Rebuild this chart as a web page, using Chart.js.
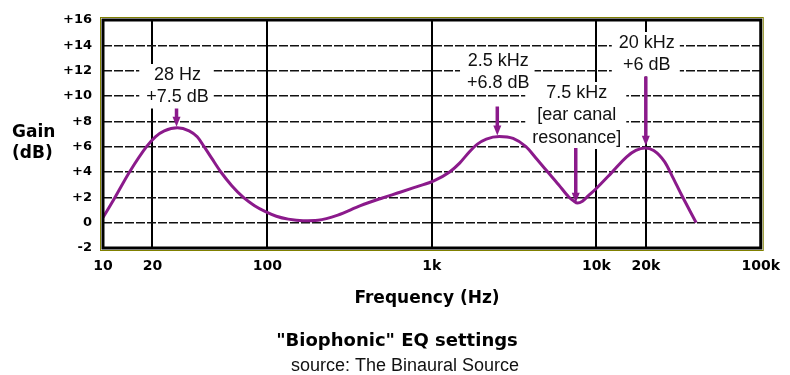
<!DOCTYPE html>
<html>
<head>
<meta charset="utf-8">
<title>Biophonic EQ settings</title>
<script src="https://cdn.jsdelivr.net/npm/chart.js@4.4.1/dist/chart.umd.min.js"></script>
<style>
  html, body { margin: 0; padding: 0; background: #fff; }
  #wrap { width: 790px; height: 375px; }
</style>
</head>
<body>
<div id="wrap"><canvas id="eqChart" width="790" height="375"></canvas></div>
<script>
// DATA
const freqHz = [10, 11.8, 14.5, 18.4, 20.9, 23.6, 28.3, 33.4, 37.4, 41.2, 46, 52.1, 60.7, 71.7, 83.5, 97.3, 113.3, 133.9, 164.8, 202.9,
                268, 368, 500, 641, 813, 1028, 1282, 1475, 1694, 1893, 2143, 2570,
                3119, 3733, 4355, 5070, 5902, 6780, 7261, 7690, 8238, 8955, 10000, 12400, 15300, 17400, 19700,
                22330, 26060, 29130, 32960, 40500];
const gainDb = [0.4, 1.97, 4.0, 6.0, 6.8, 7.25, 7.5, 7.25, 6.78, 6.0, 5.05, 4.0, 2.92, 1.97, 1.34, 0.87, 0.51, 0.28, 0.16, 0.2,
                0.6, 1.35, 1.95, 2.4, 2.85, 3.3, 4.0, 4.7, 5.6, 6.2, 6.6, 6.8,
                6.65, 6.0, 5.0, 4.0, 3.0, 2.05, 1.73, 1.55, 1.7, 2.13, 2.7, 3.95, 5.2, 5.7, 5.9,
                5.7, 4.8, 3.6, 2.2, 0];

const xTickValues = [10, 20, 100, 1000, 10000, 20000, 100000];
const xTickLabels = ["10", "20", "100", "1k", "10k", "20k", "100k"];
const yTickValues = [-2, 0, 2, 4, 6, 8, 10, 12, 14, 16];
const yTickLabels = ["-2", "0", "+2", "+4", "+6", "+8", "+10", "+12", "+14", "+16"];

const peakFreq = [28, 2500, 7500, 20000];
const peakGain = [7.5, 6.8, 1.5, 6];
const peakText = [
    ["28 Hz", "+7.5 dB"],
    ["2.5 kHz", "+6.8 dB"],
    ["7.5 kHz", "[ear canal", "resonance]"],
    ["20 kHz", "+6 dB"]
];

// label layout (px below the top of the plot, and gap before arrow)
const labelTop = [55, 41, 73, 23];
const arrowGap = [11, 23, 10, 11];

const CURVE = "#8b1a8b";
const BOLD = "'DejaVu Sans', sans-serif";
const PLAIN = "'Liberation Sans', Arial, sans-serif";
const LABEL_FONT = "18px " + PLAIN;

const decorPlugin = {
    id: "decor",
    // white boxes behind labels break the grid, but stay under the curve
    beforeDatasetsDraw(chart) {
        const ctx = chart.ctx;
        const xs = chart.scales.x;
        const top = chart.chartArea.top;
        ctx.save();
        ctx.font = LABEL_FONT;
        ctx.fillStyle = "#fff";
        peakText.forEach((lines, i) => {
            const px = xs.getPixelForValue(peakFreq[i]);
            const first = top + labelTop[i];
            const last = first + (lines.length - 1) * 22.5;
            const w = Math.max(...lines.map(l => ctx.measureText(l).width)) + 12;
            ctx.fillRect(px - w / 2, first - 11, w, last - first + 22);
        });
        ctx.restore();
    },
    afterDatasetsDraw(chart) {
        const ctx = chart.ctx;
        const xs = chart.scales.x, ys = chart.scales.y;
        const top = chart.chartArea.top;
        ctx.save();
        ctx.font = LABEL_FONT;
        ctx.textAlign = "center";
        ctx.textBaseline = "middle";
        peakText.forEach((lines, i) => {
            const px = xs.getPixelForValue(peakFreq[i]);
            const py = ys.getPixelForValue(peakGain[i]);
            const first = top + labelTop[i];
            const last = first + (lines.length - 1) * 22.5;
            ctx.fillStyle = "#111";
            lines.forEach((l, j) => ctx.fillText(l, px + 1, first + j * 22.5));
            // arrow
            const y0 = last + arrowGap[i];
            const y1 = py - 1;
            ctx.strokeStyle = CURVE;
            ctx.lineWidth = 3.5;
            ctx.beginPath();
            ctx.moveTo(px, y0);
            ctx.lineTo(px, y1 - 6);
            ctx.stroke();
            ctx.fillStyle = CURVE;
            ctx.beginPath();
            ctx.moveTo(px, y1);
            ctx.lineTo(px - 4, y1 - 10);
            ctx.lineTo(px + 4, y1 - 10);
            ctx.closePath();
            ctx.fill();
        });
        ctx.restore();
    },
    afterDraw(chart) {
        const ctx = chart.ctx;
        const a = chart.chartArea;
        ctx.save();
        // plot frame
        ctx.strokeStyle = "#808000";
        ctx.lineWidth = 1;
        ctx.strokeRect(a.left - 2.5, a.top - 2.5, a.right - a.left + 5, a.bottom - a.top + 5);
        ctx.strokeStyle = "#000";
        ctx.lineWidth = 3;
        ctx.strokeRect(a.left, a.top, a.right - a.left, a.bottom - a.top);

        ctx.fillStyle = "#000";
        ctx.textBaseline = "middle";
        ctx.font = "bold 17px " + BOLD;
        ctx.textAlign = "left";
        ctx.fillText("Gain", 12, 133);
        ctx.fillText("(dB)", 12, 154);
        ctx.textAlign = "center";
        ctx.fillText("Frequency (Hz)", 427, 299);
        ctx.font = "bold 18px " + BOLD;
        ctx.fillText("\"Biophonic\" EQ settings", 397, 341);
        ctx.font = "18px " + PLAIN;
        ctx.fillStyle = "#111";
        ctx.fillText("source: The Binaural Source", 405, 366);
        ctx.restore();
    }
};

new Chart(document.getElementById("eqChart"), {
    type: "scatter",
    data: {
        datasets: [{
            data: freqHz.map((f, i) => ({ x: f, y: gainDb[i] })),
            showLine: true,
            borderColor: CURVE,
            borderWidth: 3,
            pointRadius: 0,
            cubicInterpolationMode: "monotone"
        }]
    },
    options: {
        responsive: false,
        animation: false,
        devicePixelRatio: 1,
        layout: { padding: { left: 0, right: 22, top: 20, bottom: 0 } },
        plugins: { legend: { display: false }, tooltip: { enabled: false } },
        scales: {
            x: {
                type: "logarithmic",
                min: 10,
                max: 100000,
                afterBuildTicks: s => { s.ticks = xTickValues.map(v => ({ value: v })); },
                afterFit: s => { s.height = 127; },
                ticks: {
                    autoSkip: false,
                    maxRotation: 0,
                    padding: 10,
                    color: "#000",
                    font: { family: BOLD, size: 14, weight: "bold" },
                    callback: (v, i) => xTickLabels[i]
                },
                grid: {
                    drawTicks: false,
                    lineWidth: 2,
                    color: c => (c.tick && (c.tick.value === 10 || c.tick.value === 100000)) ? "rgba(0,0,0,0)" : "#000"
                },
                border: { display: false }
            },
            y: {
                min: -2,
                max: 16,
                afterBuildTicks: s => { s.ticks = yTickValues.map(v => ({ value: v })); },
                afterFit: s => { s.width = 103; },
                ticks: {
                    padding: 11,
                    color: "#000",
                    font: { family: BOLD, size: 13, weight: "bold" },
                    callback: (v, i) => yTickLabels[i]
                },
                grid: {
                    drawTicks: false,
                    lineWidth: 1.5,
                    color: c => (c.tick && (c.tick.value === -2 || c.tick.value === 16)) ? "rgba(0,0,0,0)" : "#111"
                },
                border: { display: false, dash: [9, 2] }
            }
        }
    },
    plugins: [decorPlugin]
});
</script>
</body>
</html>
